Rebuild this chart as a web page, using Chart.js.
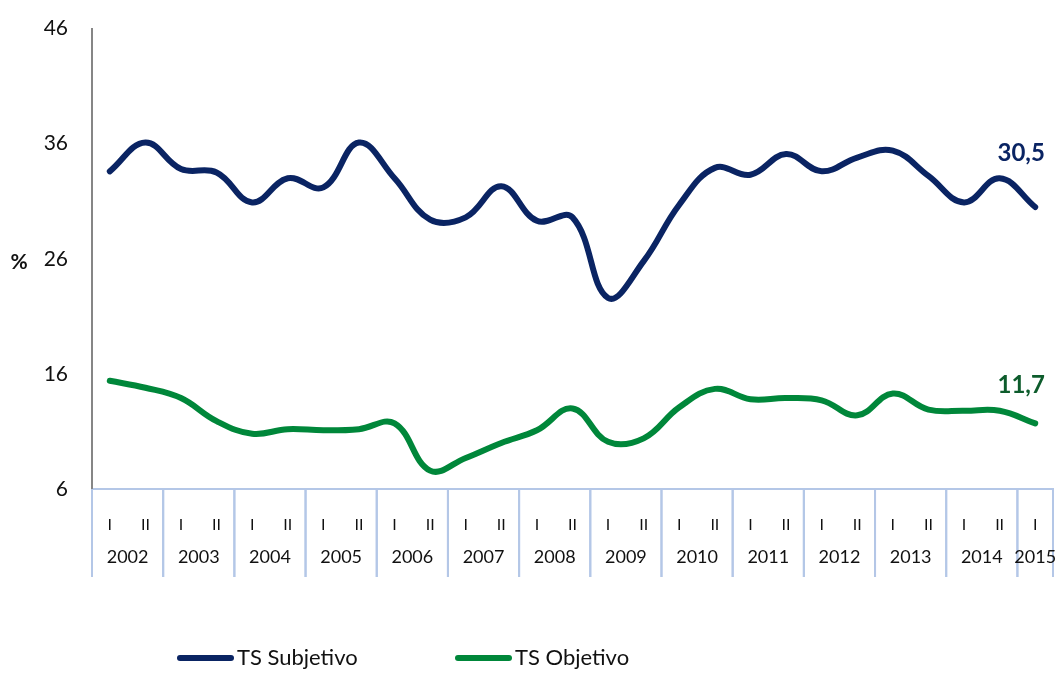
<!DOCTYPE html>
<html>
<head>
<meta charset="utf-8">
<script src="https://cdn.jsdelivr.net/npm/chart.js@4/dist/chart.umd.min.js"></script>
<style>
  html, body { margin: 0; padding: 0; background: #fff; }
  #wrap { width: 1060px; height: 673px; }
</style>
</head>
<body>
<div id="wrap"><canvas id="grafico" width="1060" height="673"></canvas></div>
<script>
// semestres 2002-I .. 2015-I
const semestres = ['I','II','I','II','I','II','I','II','I','II','I','II','I','II',
                   'I','II','I','II','I','II','I','II','I','II','I','II','I'];
const anios = ['2002','2003','2004','2005','2006','2007','2008','2009','2010','2011','2012','2013','2014','2015'];

// tasas (%)
const subjetivo = [33.6, 36.1, 33.8, 33.5, 30.9, 33.0, 32.2, 36.1, 33.0, 29.4, 29.6, 32.3, 29.3, 29.6,
                   22.6, 25.8, 30.7, 33.9, 33.3, 35.1, 33.6, 34.8, 35.4, 33.2, 30.9, 33.0, 30.5];
const objetivo  = [15.4, 14.8, 13.9, 11.9, 10.8, 11.2, 11.1, 11.2, 11.7, 7.6, 8.7, 10.0, 11.1, 13.0,
                   10.1, 10.4, 13.1, 14.7, 13.8, 13.9, 13.7, 12.4, 14.3, 12.9, 12.8, 12.8, 11.7];

const yMin = 6, yMax = 46, yPaso = 10;

const fuente = 'Lato, "Noto Sans", sans-serif';
const azul = '#0a2463';
const verde = '#00873a';

// fila de años y separadores bajo el eje x
const ejeAnios = {
  id: 'ejeAnios',
  afterDraw(chart) {
    const x = chart.scales.x;
    const ctx = chart.ctx;
    const paso = x.getPixelForValue(1) - x.getPixelForValue(0);
    const arriba = chart.chartArea.bottom;
    ctx.save();
    ctx.strokeStyle = '#b4c7e7';
    ctx.lineWidth = 2;
    ctx.fillStyle = '#111';
    ctx.font = '18px ' + fuente;
    ctx.textAlign = 'center';
    ctx.textBaseline = 'middle';
    anios.forEach((a, k) => {
      const ini = k * 2;
      const fin = Math.min(ini + 1, semestres.length - 1);
      const x0 = x.getPixelForValue(ini) - paso / 2;
      const x1 = x.getPixelForValue(fin) + paso / 2;
      ctx.beginPath();
      ctx.moveTo(x0, arriba); ctx.lineTo(x0, arriba + 88);
      ctx.moveTo(x1, arriba); ctx.lineTo(x1, arriba + 88);
      ctx.stroke();
      ctx.fillText(a, (x0 + x1) / 2, arriba + 68);
    });
    ctx.restore();
  }
};

// etiqueta del ultimo valor de cada serie y el "%" del eje
const etiquetas = {
  id: 'etiquetas',
  afterDatasetsDraw(chart) {
    const ctx = chart.ctx;
    ctx.save();
    ctx.font = 'bold 24px ' + fuente;
    ctx.textAlign = 'center';
    ctx.textBaseline = 'middle';
    chart.data.datasets.forEach((ds, i) => {
      const meta = chart.getDatasetMeta(i);
      const ult = meta.data[meta.data.length - 1];
      const v = ds.data[ds.data.length - 1];
      ctx.fillStyle = ds.labelColor;
      ctx.fillText(v.toFixed(1).replace('.', ','), ult.x - 14, ult.y - ds.labelOffset);
    });
    ctx.fillStyle = '#111';
    ctx.font = 'bold 21px ' + fuente;
    ctx.fillText('%', 19, chart.scales.y.getPixelForValue(26) + 3);
    ctx.restore();
  }
};

// leyenda abajo
const leyenda = {
  id: 'leyenda',
  afterDraw(chart) {
    const ctx = chart.ctx;
    const xs = [177, 455];
    const y = 658;
    ctx.save();
    ctx.font = '22px ' + fuente;
    ctx.textBaseline = 'middle';
    ctx.textAlign = 'left';
    chart.data.datasets.forEach((ds, i) => {
      ctx.strokeStyle = ds.borderColor;
      ctx.lineWidth = 6;
      ctx.lineCap = 'round';
      ctx.beginPath();
      ctx.moveTo(xs[i] + 3, y);
      ctx.lineTo(xs[i] + 54, y);
      ctx.stroke();
      ctx.fillStyle = '#111';
      ctx.fillText(ds.label, xs[i] + 60, y);
    });
    ctx.restore();
  }
};

const ctx = document.getElementById('grafico').getContext('2d');
new Chart(ctx, {
  type: 'line',
  data: {
    labels: semestres,
    datasets: [
      {
        label: 'TS Subjetivo',
        data: subjetivo,
        borderColor: azul,
        labelColor: '#0a2463',
        labelOffset: 54,
        borderWidth: 6,
        borderCapStyle: 'round',
        pointRadius: 0,
        tension: 0.4,
        fill: false
      },
      {
        label: 'TS Objetivo',
        data: objetivo,
        borderColor: verde,
        labelColor: '#0d5c2c',
        labelOffset: 38,
        borderWidth: 6,
        borderCapStyle: 'round',
        pointRadius: 0,
        tension: 0.4,
        fill: false
      }
    ]
  },
  options: {
    responsive: false,
    animation: false,
    layout: { padding: { left: 0, right: 7, top: 21, bottom: 0 } },
    plugins: {
      legend: { display: false },
      tooltip: { enabled: false }
    },
    scales: {
      x: {
        offset: true,
        afterFit: (s) => { s.height = 184; },
        grid: { display: false },
        border: { color: '#b4c7e7', width: 2 },
        ticks: {
          color: '#111',
          font: { family: fuente, size: 16 },
          padding: 18,
          autoSkip: false,
          maxRotation: 0
        }
      },
      y: {
        min: yMin,
        max: yMax,
        afterFit: (s) => { s.width = 92; },
        grid: { display: false },
        border: { color: '#868686', width: 2 },
        ticks: {
          stepSize: yPaso,
          color: '#111',
          font: { family: fuente, size: 21 },
          padding: 16
        }
      }
    }
  },
  plugins: [ejeAnios, etiquetas, leyenda]
});
</script>
</body>
</html>
